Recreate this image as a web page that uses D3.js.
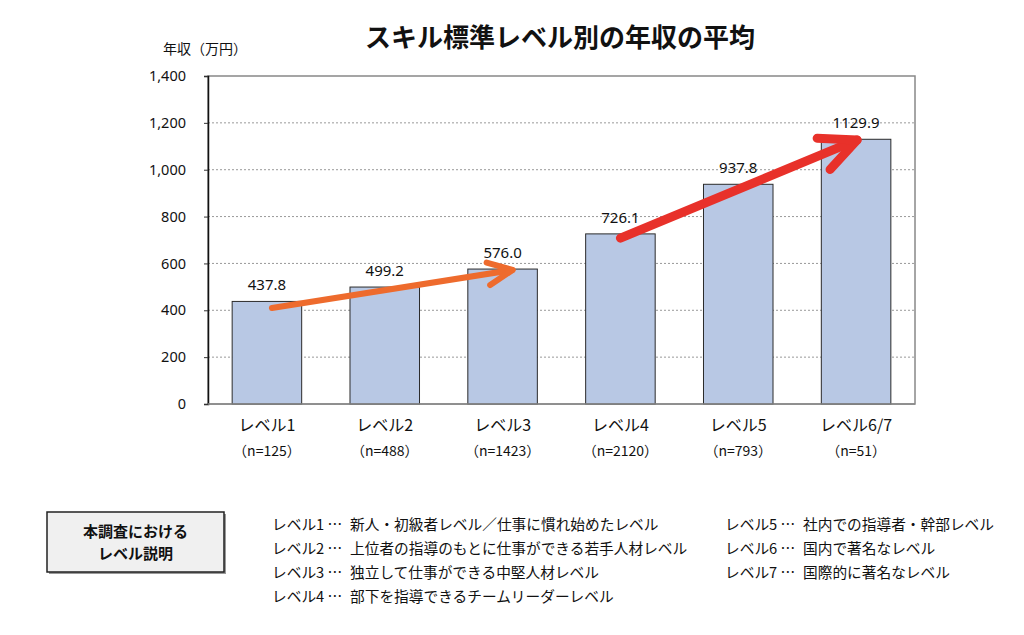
<!DOCTYPE html>
<html>
<head>
<meta charset="utf-8">
<script src="https://cdn.jsdelivr.net/npm/d3@7"></script>
<style>
	body { margin: 0; background: #fff; }
	text { font-family: "Noto Sans CJK JP", "Noto Sans", sans-serif; fill: #111; text-spacing-trim: space-all; }
	text.xifra { font-family: "Noto Sans", "DejaVu Sans", sans-serif; }
</style>
</head>
<body>
<div id="grafic"></div>
<script>
// dades
const nivells = ['レベル1', 'レベル2', 'レベル3', 'レベル4', 'レベル5', 'レベル6/7'];
const mostres = ['（n=125）', '（n=488）', '（n=1423）', '（n=2120）', '（n=793）', '（n=51）'];
const sous = [437.8, 499.2, 576.0, 726.1, 937.8, 1129.9];
const marquesY = [0, 200, 400, 600, 800, 1000, 1200, 1400];

const explicEsq = [
	['レベル1 …', '新人・初級者レベル／仕事に慣れ始めたレベル'],
	['レベル2 …', '上位者の指導のもとに仕事ができる若手人材レベル'],
	['レベル3 …', '独立して仕事ができる中堅人材レベル'],
	['レベル4 …', '部下を指導できるチームリーダーレベル']
];
const explicDre = [
	['レベル5 …', '社内での指導者・幹部レベル'],
	['レベル6 …', '国内で著名なレベル'],
	['レベル7 …', '国際的に著名なレベル']
];

// fletxes: [categoria, valor] d'inici i de punta
const fletxes = [
	{de: ['レベル1', 410], a: ['レベル3', 572], dx0: 5, dx1: 10, col: '#ee6b2d', gruix: 6, cap: 27},
	{de: ['レベル4', 708], a: ['レベル6/7', 1127], dx0: 0, dx1: 1, col: '#e8312a', gruix: 9, cap: 40}
];

const Amplada = 1024, Alçada = 635;
const marge = {dalt: 76, dreta: 109, baix: 231, esquerra: 208};
const amplada = Amplada - marge.esquerra - marge.dreta;
const alçada = Alçada - marge.dalt - marge.baix;

const svg = d3.select('#grafic').append('svg')
	.attr('width', Amplada)
	.attr('height', Alçada);

const x = d3.scaleBand()
	.domain(nivells)
	.range([marge.esquerra, marge.esquerra + amplada])
	.paddingInner(0.41)
	.paddingOuter(0.205);

const y = d3.scaleLinear()
	.domain([0, 1400])
	.range([marge.dalt + alçada, marge.dalt]);

// títol
svg.append('text')
	.attr('x', 560).attr('y', 47)
	.attr('text-anchor', 'middle')
	.attr('font-size', 26)
	.attr('font-weight', 'bold')
	.text('スキル標準レベル別の年収の平均');

svg.append('text')
	.attr('x', 163).attr('y', 54)
	.attr('font-size', 14)
	.text('年収（万円）');

// quadrícula
svg.append('g')
	.selectAll('line')
	.data(marquesY.filter(d => d > 0 && d < 1400))
	.enter()
	.append('line')
		.attr('x1', marge.esquerra).attr('x2', marge.esquerra + amplada)
		.attr('y1', d => y(d)).attr('y2', d => y(d))
		.attr('stroke', '#999')
		.attr('stroke-width', 1)
		.attr('stroke-dasharray', '2,2');

// vora
svg.append('rect')
	.attr('x', marge.esquerra).attr('y', marge.dalt)
	.attr('width', amplada).attr('height', alçada)
	.attr('fill', 'none')
	.attr('stroke', '#888')
	.attr('stroke-width', 1.5);

// barres
svg.append('g')
	.selectAll('rect')
	.data(sous)
	.enter()
	.append('rect')
		.attr('x', (d, i) => x(nivells[i]))
		.attr('y', d => y(d))
		.attr('width', x.bandwidth())
		.attr('height', d => y(0) - y(d))
		.attr('fill', '#b8c8e4')
		.attr('stroke', '#2b2b2b')
		.attr('stroke-width', 1);

// eix Y
const eixY = svg.append('g')
	.attr('transform', `translate(${marge.esquerra},0)`)
	.call(d3.axisLeft(y).tickValues(marquesY).tickFormat(d3.format(',')).tickSizeOuter(0).tickSize(4).tickPadding(18));
eixY.select('.domain').attr('stroke', '#111').attr('stroke-width', 1.5);
eixY.selectAll('.tick line').attr('stroke', '#333');
eixY.selectAll('text')
	.attr('class', 'xifra')
	.attr('font-size', 14.5)
	.attr('fill', '#111');

// eix X
svg.append('line')
	.attr('x1', marge.esquerra).attr('x2', marge.esquerra + amplada)
	.attr('y1', y(0)).attr('y2', y(0))
	.attr('stroke', '#888').attr('stroke-width', 1.5);

const etiq = svg.append('g')
	.selectAll('g')
	.data(nivells)
	.enter()
	.append('g')
		.attr('transform', d => `translate(${x(d) + x.bandwidth() / 2},0)`);
etiq.append('text')
	.attr('y', y(0) + 27)
	.attr('text-anchor', 'middle')
	.attr('font-size', 16)
	.text(d => d);
etiq.append('text')
	.attr('y', y(0) + 52)
	.attr('text-anchor', 'middle')
	.attr('font-size', 14)
	.text((d, i) => mostres[i]);

// valors
svg.append('g')
	.selectAll('text')
	.data(sous)
	.enter()
	.append('text')
		.attr('class', 'xifra')
		.attr('x', (d, i) => x(nivells[i]) + x.bandwidth() / 2)
		.attr('y', d => y(d) - 11)
		.attr('text-anchor', 'middle')
		.attr('font-size', 15)
		.text(d => d.toFixed(1));

// fletxes
function fletxa(f) {
	const x0 = x(f.de[0]) + x.bandwidth() / 2 + f.dx0, y0 = y(f.de[1]);
	const x1 = x(f.a[0]) + x.bandwidth() / 2 + f.dx1, y1 = y(f.a[1]);
	const ang = Math.atan2(y0 - y1, x0 - x1);
	const obr = 25 * Math.PI / 180;
	const ala = s => [x1 + f.cap * Math.cos(ang + s * obr), y1 + f.cap * Math.sin(ang + s * obr)];
	const g = svg.append('g')
		.attr('stroke', f.col)
		.attr('stroke-width', f.gruix)
		.attr('stroke-linecap', 'round')
		.attr('stroke-linejoin', 'round')
		.attr('fill', 'none');
	g.append('path').attr('d', d3.line()([[x0, y0], [x1, y1]]));
	g.append('path').attr('d', d3.line()([ala(1), [x1, y1], ala(-1)]));
}
fletxes.forEach(fletxa);

// quadre explicatiu
svg.append('rect')
	.attr('x', 49).attr('y', 514)
	.attr('width', 177).attr('height', 60)
	.attr('fill', '#999');
svg.append('rect')
	.attr('x', 47).attr('y', 512)
	.attr('width', 177).attr('height', 60)
	.attr('fill', '#f0f0f0')
	.attr('stroke', '#222')
	.attr('stroke-width', 1.5);
svg.append('text')
	.attr('x', 135.5).attr('y', 537)
	.attr('text-anchor', 'middle')
	.attr('font-size', 15).attr('font-weight', 'bold')
	.text('本調査における');
svg.append('text')
	.attr('x', 135.5).attr('y', 559)
	.attr('text-anchor', 'middle')
	.attr('font-size', 15).attr('font-weight', 'bold')
	.text('レベル説明');

function columna(dades, x0) {
	const g = svg.append('g');
	g.selectAll('text.nom')
		.data(dades)
		.enter()
		.append('text')
			.attr('class', 'nom')
			.attr('x', x0)
			.attr('y', (d, i) => 530 + i * 24)
			.attr('font-size', 14.7)
			.text(d => d[0]);
	g.selectAll('text.desc')
		.data(dades)
		.enter()
		.append('text')
			.attr('class', 'desc')
			.attr('x', x0 + 78)
			.attr('y', (d, i) => 530 + i * 24)
			.attr('font-size', 14.7)
			.text(d => d[1]);
}
columna(explicEsq, 272);
columna(explicDre, 725);
</script>
</body>
</html>
